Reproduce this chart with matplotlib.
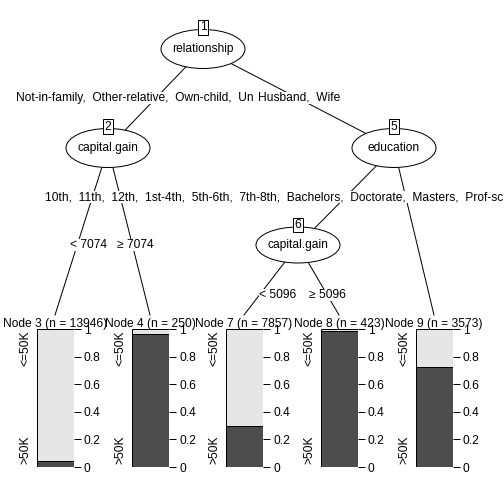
import matplotlib
matplotlib.use('Agg')
import matplotlib.pyplot as plt
from matplotlib.patches import Ellipse

plt.rcParams['font.family'] = ['Liberation Sans', 'DejaVu Sans']

# inner nodes: id, variable, center x, center y (pixels)
inner_ids = [1, 2, 5, 6]
inner_vars = ['relationship', 'capital.gain', 'education', 'capital.gain']
inner_x = [203, 108, 394, 298]
inner_y = [49, 148, 148, 245]

# terminal nodes
term_ids = [3, 4, 7, 8, 9]
term_n = [13946, 250, 7857, 423, 3573]
term_x = [55, 150, 244, 339, 434]
p_over50 = [0.045, 0.965, 0.30, 0.985, 0.725]

edges = [(1, 2), (1, 5), (2, 3), (2, 4), (5, 6), (5, 9), (6, 7), (6, 8)]
# text, x, y, horizontal alignment
edge_labels = {
    (1, 2): ('Not-in-family,  Other-relative,  Own-child,  Un', 16, 98, 'left'),
    (1, 5): ('Husband,  Wife', 258, 98, 'left'),
    (2, 3): ('< 7074', 88, 245, 'center'),
    (2, 4): ('\u2265 7074', 135, 245, 'center'),
    (5, 6): ('10th,  11th,  12th,  1st-4th,  5th-6th,  7th-8th,  Bachelors,  Doctorate,  Masters,  Prof-school', 45, 197, 'left'),
    (6, 7): ('< 5096', 278, 295, 'center'),
    (6, 8): ('\u2265 5096', 327, 295, 'center'),
}
FS = 12

fig = plt.figure(figsize=(7, 7), dpi=72)
ax = fig.add_axes([0, 0, 1, 1])
ax.set_xlim(0, 504)
ax.set_ylim(504, 0)
ax.axis('off')

pos = {}
for i, x, y in zip(inner_ids, inner_x, inner_y):
    pos[i] = (x, y)
for i, x in zip(term_ids, term_x):
    pos[i] = (x, 315)

for a, b in edges:
    ax.plot([pos[a][0], pos[b][0]], [pos[a][1], pos[b][1]], color='black', lw=1, zorder=1)

for (a, b), (txt, x, y, ha) in edge_labels.items():
    ax.text(x, y, txt, ha=ha, va='center', fontsize=FS, zorder=3,
            bbox=dict(facecolor='white', edgecolor='none', pad=0.5))

for i, v, x, y in zip(inner_ids, inner_vars, inner_x, inner_y):
    h = 36 if i == 6 else 39
    ax.add_patch(Ellipse((x, y), 84, h, facecolor='white', edgecolor='black', lw=1, zorder=4))
    ax.text(x, y, v, ha='center', va='center', fontsize=FS, zorder=5)
    ax.text(x, y - h / 2 - 2, str(i), ha='center', va='center', fontsize=FS, zorder=6,
            bbox=dict(facecolor='white', edgecolor='black', pad=1.5, lw=1))

for i, n, x, p in zip(term_ids, term_n, term_x, p_over50):
    ax.text(x, 324, 'Node %d (n = %d)' % (i, n), ha='center', va='center', fontsize=FS, zorder=5)
    left = x - 18
    bax = fig.add_axes([left / 504, 1 - 467 / 504, 37 / 504, 138 / 504])
    bax.bar([0], [p], width=1, color='#4d4d4d', edgecolor='black', lw=1)
    bax.bar([0], [1 - p], bottom=[p], width=1, color='#e6e6e6', edgecolor='black', lw=1)
    bax.set_xlim(-0.5, 0.5)
    bax.set_ylim(0, 1)
    bax.set_xticks([])
    bax.yaxis.tick_right()
    bax.set_yticks([0, 0.2, 0.4, 0.6, 0.8, 1])
    bax.set_yticklabels(['0', '0.2', '0.4', '0.6', '0.8', '1'], fontsize=FS)
    bax.tick_params(axis='y', length=7, width=1, pad=3)
    bax.patch.set_alpha(0)
    for s in ['top', 'bottom', 'left', 'right']:
        bax.spines[s].set_visible(False)
    ax.text(left - 12, 330, '<=50K', rotation=90, ha='center', va='top', fontsize=FS, zorder=5)
    ax.text(left - 12, 464, '>50K', rotation=90, ha='center', va='bottom', fontsize=FS, zorder=5)

fig.savefig('out.png', dpi=72)
